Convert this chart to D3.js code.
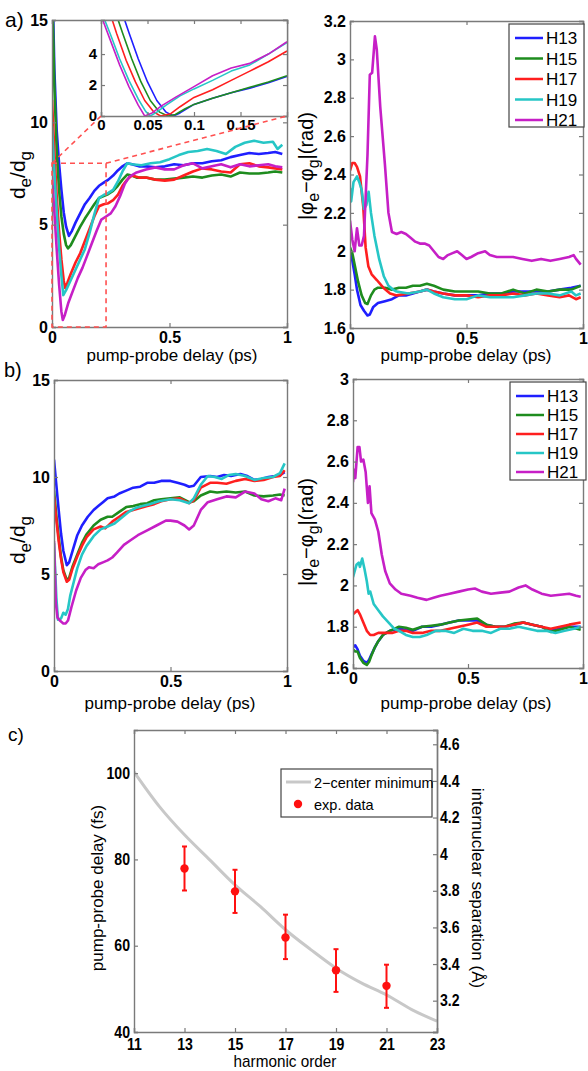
<!DOCTYPE html>
<html>
<head>
<meta charset="utf-8">
<script src="https://cdn.jsdelivr.net/npm/d3@7"></script>
<style>
body { margin: 0; background: #fff; }
text { font-family: "Liberation Sans", Arial, sans-serif; }
</style>
</head>
<body>
<svg id="fig" width="588" height="1071"></svg>
<script>
// series names and colours (matlab style)
const harmonics = ["H13", "H15", "H17", "H19", "H21"];
const lineColors = ["#1f1fff", "#1e8c1e", "#ff1f1f", "#26c6c6", "#c61fc6"];

// tick values
const delayTicks = [0, 0.5, 1];
const ampTicks = [0, 5, 10, 15];
const phaseTicksA = [1.6, 1.8, 2, 2.2, 2.4, 2.6, 2.8, 3, 3.2];
const phaseTicksB = [1.6, 1.8, 2, 2.2, 2.4, 2.6, 2.8, 3];
const insetXTicks = [0, 0.05, 0.1, 0.15];
const insetYTicks = [0, 2, 4];
const orderTicks = [11, 13, 15, 17, 19, 21, 23];
const fsTicks = [40, 60, 80, 100];
const sepTicks = [3.2, 3.4, 3.6, 3.8, 4, 4.2, 4.4, 4.6];

// a) d_e/d_g vs delay (ps)
const ampA13 = [[0,18],[0.01,12.6],[0.02,9.6],[0.03,8.0],[0.04,6.7],[0.05,5.6],[0.06,4.9],[0.072,4.45],[0.085,4.7],[0.1,5.1],[0.12,5.55],[0.14,6.0],[0.16,6.3],[0.18,6.65],[0.2,6.9],[0.22,7.05],[0.24,7.2],[0.26,7.4],[0.28,7.65],[0.3,7.85],[0.32,8.0],[0.34,7.95],[0.37,7.85],[0.4,7.85],[0.44,7.8],[0.48,7.85],[0.52,7.95],[0.56,7.9],[0.6,8.0],[0.64,8.0],[0.68,8.1],[0.72,8.15],[0.76,8.3],[0.8,8.4],[0.84,8.5],[0.88,8.45],[0.92,8.5],[0.95,8.55],[0.98,8.45]];
const ampA15 = [[0,17],[0.01,11.8],[0.02,8.6],[0.03,6.7],[0.04,5.4],[0.05,4.55],[0.06,4.0],[0.068,3.84],[0.08,4.0],[0.1,4.45],[0.12,4.9],[0.14,5.3],[0.16,5.65],[0.18,6.0],[0.2,6.3],[0.22,6.4],[0.24,6.5],[0.26,6.65],[0.28,6.9],[0.3,7.2],[0.32,7.45],[0.34,7.4],[0.36,7.3],[0.4,7.3],[0.44,7.2],[0.48,7.2],[0.52,7.25],[0.56,7.3],[0.6,7.35],[0.64,7.3],[0.68,7.4],[0.72,7.45],[0.76,7.35],[0.8,7.55],[0.84,7.5],[0.88,7.5],[0.92,7.55],[0.95,7.6],[0.98,7.55]];
const ampA17 = [[0,11.1],[0.01,8.6],[0.02,6.4],[0.03,4.7],[0.04,3.3],[0.05,2.25],[0.056,1.9],[0.065,2.15],[0.08,2.6],[0.1,3.15],[0.12,3.6],[0.14,4.2],[0.16,4.8],[0.18,5.4],[0.2,5.9],[0.22,6.0],[0.24,6.05],[0.26,6.2],[0.28,6.45],[0.3,6.9],[0.32,7.2],[0.34,7.4],[0.37,7.3],[0.4,7.3],[0.44,7.2],[0.48,7.15],[0.52,7.2],[0.56,7.4],[0.6,7.6],[0.64,7.75],[0.68,7.7],[0.72,7.6],[0.76,7.55],[0.8,7.95],[0.84,8.0],[0.88,7.85],[0.92,7.8],[0.95,7.75],[0.98,7.7]];
const ampA19 = [[0,9.8],[0.01,7.6],[0.02,5.6],[0.03,3.9],[0.04,2.5],[0.048,1.56],[0.06,1.8],[0.08,2.3],[0.1,2.8],[0.12,3.3],[0.14,3.8],[0.16,4.6],[0.18,5.5],[0.2,6.3],[0.22,6.45],[0.24,6.55],[0.26,6.7],[0.28,7.1],[0.3,7.6],[0.32,8.0],[0.34,7.95],[0.38,7.9],[0.42,8.0],[0.46,8.05],[0.5,8.2],[0.54,8.4],[0.58,8.55],[0.62,8.6],[0.66,8.7],[0.7,8.6],[0.74,8.45],[0.78,8.8],[0.82,9.0],[0.86,9.1],[0.9,9.0],[0.94,9.05],[0.96,8.7],[0.98,8.9]];
const ampA21 = [[0,7.4],[0.01,5.6],[0.02,3.8],[0.03,2.1],[0.04,0.75],[0.046,0.34],[0.055,0.6],[0.07,1.2],[0.09,1.8],[0.11,2.4],[0.13,2.9],[0.15,3.5],[0.17,4.1],[0.19,4.7],[0.21,5.25],[0.23,5.4],[0.25,5.55],[0.27,5.9],[0.29,6.4],[0.31,7.0],[0.33,7.35],[0.36,7.55],[0.4,7.7],[0.44,7.8],[0.48,7.7],[0.52,7.7],[0.56,7.9],[0.6,8.0],[0.64,7.75],[0.68,7.85],[0.72,7.95],[0.76,7.8],[0.8,7.95],[0.84,7.85],[0.88,7.9],[0.92,7.95],[0.95,7.85],[0.98,7.8]];

// a) inset, first 0.2 ps
const insetA13 = [[0.018,7.5],[0.03,5.4],[0.04,3.7],[0.05,2.2],[0.06,1.0],[0.07,0.25],[0.078,0.0],[0.085,0.2],[0.1,0.75],[0.12,1.15],[0.14,1.5],[0.16,1.8],[0.18,2.15],[0.2,2.55]];
const insetA15 = [[0.011,7.5],[0.023,5.4],[0.033,3.7],[0.043,2.2],[0.053,1.0],[0.063,0.25],[0.072,0.0],[0.08,0.1],[0.09,0.45],[0.1,0.75],[0.12,1.15],[0.14,1.5],[0.16,1.85],[0.18,2.2],[0.2,2.6]];
const insetA17 = [[0.005,7.5],[0.017,5.3],[0.027,3.6],[0.037,2.2],[0.047,1.0],[0.057,0.25],[0.064,0.0],[0.075,0.15],[0.085,0.6],[0.1,1.2],[0.12,1.7],[0.14,2.3],[0.16,2.9],[0.18,3.5],[0.2,4.2]];
const insetA19 = [[0,6.8],[0.01,5.3],[0.02,3.7],[0.03,2.3],[0.04,1.1],[0.048,0.3],[0.053,0.0],[0.06,0.25],[0.07,0.7],[0.085,1.3],[0.1,1.75],[0.12,2.3],[0.14,2.9],[0.16,3.3],[0.18,4.0],[0.2,4.75]];
const insetA21 = [[0,6.5],[0.01,4.9],[0.02,3.3],[0.03,1.9],[0.04,0.7],[0.047,0.0],[0.055,0.2],[0.065,0.65],[0.08,1.2],[0.1,1.9],[0.12,2.6],[0.14,3.1],[0.16,3.4],[0.18,4.0],[0.2,4.8]];
// dashed zoom box (delay ps, d_e/d_g)
const zoomBox = [0.23, 8];

// a) |phi_e - phi_g| (rad)
const phaseA13 = [[0,2.0],[0.01,1.95],[0.02,1.88],[0.03,1.8],[0.045,1.72],[0.06,1.69],[0.075,1.665],[0.085,1.67],[0.1,1.71],[0.12,1.73],[0.15,1.74],[0.18,1.75],[0.21,1.77],[0.24,1.77],[0.27,1.78],[0.3,1.79],[0.33,1.8],[0.36,1.79],[0.4,1.78],[0.45,1.77],[0.5,1.77],[0.55,1.77],[0.6,1.78],[0.65,1.78],[0.7,1.79],[0.75,1.79],[0.8,1.79],[0.85,1.79],[0.9,1.8],[0.95,1.81],[0.99,1.82]];
const phaseA15 = [[0,2.02],[0.01,1.99],[0.02,1.93],[0.035,1.84],[0.05,1.77],[0.065,1.73],[0.075,1.725],[0.09,1.77],[0.105,1.8],[0.12,1.81],[0.15,1.81],[0.18,1.8],[0.21,1.81],[0.24,1.81],[0.27,1.82],[0.3,1.82],[0.33,1.83],[0.36,1.82],[0.4,1.8],[0.45,1.79],[0.5,1.79],[0.55,1.79],[0.6,1.78],[0.65,1.78],[0.7,1.8],[0.75,1.78],[0.8,1.8],[0.85,1.79],[0.9,1.8],[0.95,1.8],[0.99,1.82]];
const phaseA17 = [[0,2.42],[0.01,2.46],[0.02,2.46],[0.03,2.44],[0.043,2.39],[0.057,2.23],[0.067,2.02],[0.079,1.92],[0.093,1.88],[0.115,1.85],[0.143,1.81],[0.172,1.78],[0.2,1.77],[0.25,1.78],[0.3,1.79],[0.33,1.8],[0.36,1.79],[0.4,1.78],[0.45,1.77],[0.5,1.77],[0.55,1.76],[0.6,1.77],[0.65,1.77],[0.7,1.78],[0.75,1.77],[0.8,1.78],[0.85,1.77],[0.9,1.76],[0.94,1.77],[0.97,1.75],[0.99,1.76]];
const phaseA19 = [[0,2.33],[0.005,2.26],[0.015,2.36],[0.03,2.39],[0.04,2.36],[0.05,2.32],[0.06,2.22],[0.07,2.24],[0.08,2.31],[0.09,2.2],[0.105,2.08],[0.125,1.96],[0.145,1.87],[0.165,1.82],[0.185,1.8],[0.2,1.79],[0.25,1.78],[0.3,1.79],[0.33,1.8],[0.36,1.78],[0.4,1.76],[0.45,1.75],[0.5,1.75],[0.55,1.77],[0.6,1.76],[0.65,1.76],[0.7,1.76],[0.75,1.77],[0.8,1.78],[0.85,1.78],[0.9,1.77],[0.95,1.79],[0.97,1.77],[0.99,1.78]];
const phaseA21 = [[0,2.16],[0.01,2.06],[0.02,2.0],[0.03,2.12],[0.04,2.03],[0.05,2.03],[0.06,2.08],[0.075,2.5],[0.085,2.92],[0.095,2.93],[0.107,3.12],[0.115,3.05],[0.13,2.75],[0.15,2.45],[0.165,2.2],[0.18,2.1],[0.2,2.09],[0.22,2.1],[0.24,2.09],[0.26,2.07],[0.28,2.05],[0.3,2.04],[0.32,2.04],[0.34,2.03],[0.36,2.0],[0.38,1.97],[0.4,1.96],[0.42,1.98],[0.44,1.99],[0.46,2.0],[0.48,1.98],[0.5,1.96],[0.52,1.97],[0.55,1.99],[0.58,2.0],[0.6,1.98],[0.63,1.97],[0.66,1.97],[0.7,1.97],[0.74,1.96],[0.78,1.95],[0.82,1.96],[0.86,1.95],[0.9,1.96],[0.94,1.97],[0.96,1.98],[0.97,1.96],[0.99,1.93]];

// b) d_e/d_g vs delay (ps)
const ampB13 = [[0,10.9],[0.01,9.6],[0.02,8.3],[0.03,7.1],[0.04,6.2],[0.055,5.45],[0.065,5.6],[0.08,6.2],[0.1,7.0],[0.12,7.5],[0.145,7.95],[0.17,8.3],[0.19,8.5],[0.21,8.7],[0.23,8.9],[0.26,9.0],[0.28,9.15],[0.31,9.3],[0.34,9.45],[0.37,9.5],[0.4,9.7],[0.43,9.7],[0.46,9.8],[0.5,9.8],[0.53,9.7],[0.56,9.6],[0.58,9.5],[0.6,9.55],[0.63,10.0],[0.67,10.05],[0.7,10.0],[0.73,10.1],[0.76,10.05],[0.8,10.15],[0.83,10.05],[0.86,9.85],[0.89,9.9],[0.92,10.0],[0.95,10.05],[0.97,10.1],[0.99,10.25]];
const ampB15 = [[0,9.3],[0.01,8.0],[0.02,6.9],[0.03,5.9],[0.04,5.2],[0.055,4.7],[0.065,4.8],[0.08,5.4],[0.1,6.0],[0.12,6.6],[0.14,7.05],[0.17,7.5],[0.2,7.8],[0.23,7.95],[0.25,7.95],[0.28,8.2],[0.31,8.45],[0.34,8.5],[0.37,8.6],[0.4,8.65],[0.43,8.8],[0.46,8.85],[0.5,8.9],[0.54,8.95],[0.58,8.7],[0.6,8.75],[0.63,9.05],[0.67,9.25],[0.7,9.2],[0.74,9.25],[0.78,9.2],[0.82,9.25],[0.86,9.05],[0.9,9.0],[0.94,9.05],[0.97,9.1],[0.99,9.05]];
const ampB17 = [[0,9.0],[0.01,7.8],[0.02,6.7],[0.03,5.8],[0.04,5.1],[0.055,4.6],[0.065,4.7],[0.08,5.3],[0.1,5.9],[0.12,6.45],[0.14,6.9],[0.17,7.3],[0.2,7.45],[0.22,7.35],[0.25,7.7],[0.28,7.95],[0.31,8.2],[0.34,8.3],[0.37,8.4],[0.4,8.5],[0.43,8.6],[0.46,8.75],[0.5,8.85],[0.54,8.9],[0.58,8.65],[0.6,8.8],[0.63,9.45],[0.67,9.7],[0.7,9.7],[0.74,9.65],[0.78,9.8],[0.82,9.9],[0.86,9.8],[0.9,9.85],[0.94,10.0],[0.97,10.05],[0.99,10.35]];
const ampB19 = [[0,6.6],[0.01,3.8],[0.017,2.65],[0.03,2.7],[0.04,3.0],[0.05,2.9],[0.06,3.2],[0.07,3.9],[0.085,4.6],[0.1,5.3],[0.12,6.0],[0.14,6.45],[0.17,6.95],[0.2,7.3],[0.23,7.45],[0.26,7.6],[0.29,7.9],[0.32,8.2],[0.35,8.4],[0.38,8.5],[0.41,8.6],[0.45,8.75],[0.5,8.85],[0.54,8.8],[0.58,8.65],[0.6,8.9],[0.63,9.6],[0.66,10.05],[0.69,10.0],[0.72,9.9],[0.75,10.1],[0.78,10.15],[0.82,10.05],[0.86,9.85],[0.9,9.95],[0.94,10.0],[0.97,10.2],[0.99,10.7]];
const ampB21 = [[0,6.7],[0.008,3.5],[0.015,2.75],[0.025,2.6],[0.04,2.45],[0.05,2.45],[0.06,2.6],[0.075,3.3],[0.095,4.15],[0.115,4.8],[0.135,5.2],[0.15,5.35],[0.17,5.3],[0.19,5.5],[0.21,5.6],[0.23,5.7],[0.25,5.85],[0.27,6.1],[0.3,6.5],[0.33,6.75],[0.36,7.0],[0.4,7.25],[0.44,7.5],[0.48,7.75],[0.5,7.75],[0.53,7.7],[0.56,7.5],[0.58,7.3],[0.6,7.5],[0.63,8.3],[0.66,8.7],[0.7,8.85],[0.74,9.0],[0.78,8.95],[0.82,9.25],[0.86,9.15],[0.89,8.85],[0.92,8.75],[0.95,8.9],[0.975,8.8],[0.99,9.4]];

// b) |phi_e - phi_g| (rad)
const phaseB13 = [[0,1.7],[0.01,1.71],[0.02,1.69],[0.03,1.66],[0.045,1.635],[0.06,1.625],[0.07,1.64],[0.08,1.665],[0.095,1.7],[0.11,1.73],[0.13,1.76],[0.16,1.78],[0.2,1.79],[0.23,1.785],[0.26,1.78],[0.3,1.8],[0.34,1.8],[0.38,1.81],[0.42,1.82],[0.46,1.83],[0.5,1.83],[0.54,1.83],[0.58,1.81],[0.62,1.8],[0.66,1.8],[0.7,1.81],[0.74,1.82],[0.78,1.81],[0.82,1.8],[0.86,1.78],[0.9,1.79],[0.94,1.8],[0.99,1.8]];
const phaseB15 = [[0,1.69],[0.01,1.68],[0.02,1.68],[0.03,1.65],[0.045,1.625],[0.06,1.615],[0.07,1.63],[0.08,1.66],[0.095,1.7],[0.11,1.73],[0.13,1.76],[0.16,1.78],[0.2,1.8],[0.23,1.795],[0.26,1.785],[0.3,1.8],[0.34,1.805],[0.38,1.81],[0.42,1.82],[0.46,1.83],[0.5,1.835],[0.54,1.84],[0.58,1.81],[0.62,1.8],[0.66,1.8],[0.7,1.815],[0.74,1.82],[0.78,1.81],[0.82,1.8],[0.86,1.775],[0.9,1.785],[0.94,1.8],[0.99,1.785]];
const phaseB17 = [[0,1.86],[0.01,1.87],[0.02,1.88],[0.03,1.86],[0.045,1.82],[0.06,1.78],[0.075,1.76],[0.09,1.76],[0.11,1.77],[0.14,1.77],[0.17,1.77],[0.2,1.78],[0.23,1.78],[0.26,1.77],[0.3,1.77],[0.34,1.78],[0.38,1.78],[0.42,1.79],[0.46,1.8],[0.5,1.81],[0.54,1.82],[0.58,1.8],[0.62,1.8],[0.66,1.8],[0.7,1.81],[0.74,1.82],[0.78,1.81],[0.82,1.8],[0.86,1.79],[0.9,1.8],[0.94,1.81],[0.99,1.82]];
const phaseB19 = [[0,2.04],[0.01,2.08],[0.015,2.1],[0.025,2.11],[0.03,2.09],[0.04,2.13],[0.05,2.08],[0.06,2.02],[0.068,1.96],[0.075,1.97],[0.09,1.91],[0.11,1.88],[0.13,1.85],[0.155,1.82],[0.18,1.79],[0.2,1.78],[0.23,1.76],[0.26,1.75],[0.29,1.75],[0.32,1.76],[0.36,1.78],[0.4,1.78],[0.44,1.77],[0.48,1.79],[0.52,1.78],[0.56,1.78],[0.6,1.77],[0.64,1.79],[0.68,1.79],[0.72,1.8],[0.76,1.79],[0.8,1.78],[0.84,1.78],[0.88,1.77],[0.92,1.78],[0.96,1.79],[0.99,1.8]];
const phaseB21 = [[0,2.5],[0.005,2.56],[0.01,2.52],[0.02,2.67],[0.028,2.67],[0.035,2.6],[0.045,2.61],[0.055,2.55],[0.065,2.4],[0.072,2.48],[0.08,2.35],[0.095,2.32],[0.11,2.26],[0.125,2.15],[0.14,2.07],[0.16,2.01],[0.185,1.98],[0.21,1.96],[0.25,1.95],[0.28,1.94],[0.32,1.93],[0.35,1.94],[0.38,1.95],[0.42,1.96],[0.46,1.97],[0.5,1.98],[0.53,1.985],[0.56,1.97],[0.6,1.96],[0.64,1.965],[0.68,1.97],[0.72,1.99],[0.75,2.0],[0.78,1.98],[0.82,1.96],[0.86,1.95],[0.9,1.955],[0.94,1.96],[0.97,1.95],[0.99,1.945]];

// c) two-centre minimum vs experiment
const theoryOrder = [11, 12, 13, 14, 15, 16, 17, 18, 19, 20, 21, 22, 23];
const theoryDelay = [100.3, 92.3, 85.7, 79.9, 74.1, 69.1, 63.7, 59.1, 54.8, 51.4, 48.6, 45.2, 42.5];
const expOrder = [13, 15, 17, 19, 21];
const expDelay = [77.9, 72.6, 61.9, 54.3, 50.7];
const expLow = [72.8, 67.6, 56.9, 49.3, 45.6];
const expHigh = [83.0, 77.6, 67.2, 59.2, 55.6];

const svg = d3.select("#fig");
const fmt = d3.format("~g");
const axisGray = "#7a7a7a";
let clipCount = 0;

function styleAxis(g, showText, size) {
	g.selectAll(".domain").attr("stroke", axisGray).attr("stroke-width", 1.4);
	g.selectAll(".tick line").attr("stroke", axisGray).attr("stroke-width", 1.2);
	g.selectAll("text")
		.attr("fill", "#000")
		.attr("font-family", "Liberation Sans, Arial, sans-serif")
		.attr("font-size", size || 16)
		.attr("font-weight", "bold");
	if (!showText) g.selectAll("text").remove();
}

// panel c text is a little narrower in the figure
function squeeze(sel, f) {
	sel.each(function() {
		const w = this.getComputedTextLength();
		d3.select(this).attr("textLength", w * f).attr("lengthAdjust", "spacingAndGlyphs");
	});
}

// boxed matlab-like axes with inward ticks
function makeAxes(box, xDom, yDom, xTicks, yTicks, opts) {
	opts = opts || {};
	const x = d3.scaleLinear().domain(xDom).range([box.l, box.r]);
	const y = d3.scaleLinear().domain(yDom).range([box.b, box.t]);
	const g = svg.append("g");
	g.append("rect").attr("x", box.l).attr("y", box.t)
		.attr("width", box.r - box.l).attr("height", box.b - box.t).attr("fill", "#fff");
	const id = "clip" + (clipCount++);
	svg.append("clipPath").attr("id", id).append("rect")
		.attr("x", box.l).attr("y", box.t).attr("width", box.r - box.l).attr("height", box.b - box.t);
	const plot = g.append("g").attr("clip-path", "url(#" + id + ")");
	const axes = g.append("g");
	axes.append("g").attr("transform", "translate(0," + box.b + ")")
		.call(d3.axisBottom(x).tickValues(xTicks).tickSize(-4).tickPadding(opts.xPad || 5).tickFormat(fmt))
		.call(a => styleAxis(a, true, opts.size));
	axes.append("g").attr("transform", "translate(0," + box.t + ")")
		.call(d3.axisTop(x).tickValues(xTicks).tickSize(-4))
		.call(a => styleAxis(a, false));
	axes.append("g").attr("transform", "translate(" + box.l + ",0)")
		.call(d3.axisLeft(y).tickValues(yTicks).tickSize(-4).tickPadding(opts.yPad || 4).tickFormat(fmt))
		.call(a => styleAxis(a, true, opts.size));
	axes.append("g").attr("transform", "translate(" + box.r + ",0)")
		.call(d3.axisRight(y).tickValues(opts.rightTicks ? [] : yTicks).tickSize(-4))
		.call(a => styleAxis(a, false));
	return { x: x, y: y, g: g, plot: plot, axes: axes };
}

function drawSeries(p, seriesList, width) {
	const line = d3.line().x(d => p.x(d[0])).y(d => p.y(d[1]));
	p.plot.selectAll("path.series").data(seriesList).enter().append("path")
		.attr("class", "series")
		.attr("d", line)
		.attr("fill", "none")
		.attr("stroke", (d, i) => lineColors[i])
		.attr("stroke-width", width)
		.attr("stroke-linejoin", "round");
}

function legend(box, rowY) {
	const g = svg.append("g");
	g.append("rect").attr("x", box.l).attr("y", box.t).attr("width", box.r - box.l).attr("height", box.b - box.t)
		.attr("fill", "#fff").attr("stroke", "#444").attr("stroke-width", 1.2);
	harmonics.forEach((h, i) => {
		const yy = rowY(i);
		g.append("line").attr("x1", box.l + 6).attr("x2", box.l + 34).attr("y1", yy).attr("y2", yy)
			.attr("stroke", lineColors[i]).attr("stroke-width", 2.5);
		g.append("text").attr("x", box.l + 37).attr("y", yy + 6).attr("font-size", 17).text(h);
	});
}

function xLabel(cx, y, txt) {
	return svg.append("text").attr("x", cx).attr("y", y).attr("text-anchor", "middle").attr("font-size", 17).text(txt);
}

function ampLabel(cx, cy) {
	const t = svg.append("text").attr("transform", "translate(" + cx + "," + cy + ") rotate(-90)")
		.attr("text-anchor", "middle").attr("font-size", 21);
	t.append("tspan").text("d");
	t.append("tspan").attr("dy", 6).attr("font-size", 17).text("e");
	t.append("tspan").attr("dy", -6).text("/d");
	t.append("tspan").attr("dy", 6).attr("font-size", 17).text("g");
}

function phaseLabel(cx, cy) {
	const t = svg.append("text").attr("transform", "translate(" + cx + "," + cy + ") rotate(-90)")
		.attr("text-anchor", "middle").attr("font-size", 20);
	t.append("tspan").text("|\u03c6");
	t.append("tspan").attr("dy", 6).attr("font-size", 16).text("e");
	t.append("tspan").attr("dy", -6).text("\u2212\u03c6");
	t.append("tspan").attr("dy", 6).attr("font-size", 16).text("g");
	t.append("tspan").attr("dy", -6).text("|(rad)");
}

function panelTag(x, y, txt, size) {
	svg.append("text").attr("x", x).attr("y", y).attr("font-size", size).text(txt);
}

// ---------- a) left ----------
const pA = makeAxes({ l: 52, r: 287, t: 20, b: 327 }, [0, 1], [0, 15], delayTicks, ampTicks);
drawSeries(pA, [ampA13, ampA15, ampA17, ampA19, ampA21], 2.6);

// dashed zoom box and connectors
const zx = pA.x(zoomBox[0]), zy = pA.y(zoomBox[1]);
const dash = svg.append("g").attr("fill", "none").attr("stroke", "#ff5050")
	.attr("stroke-width", 1.6).attr("stroke-dasharray", "5,4");
dash.append("path").attr("d", "M" + pA.x(0) + "," + zy + "L" + zx + "," + zy + "L" + zx + "," + pA.y(0) + "L" + pA.x(0) + "," + pA.y(0) + "Z");

const inset = makeAxes({ l: 101, r: 287, t: 20, b: 116 }, [0, 0.2], [0, 6.2], insetXTicks, insetYTicks, { xPad: 3, yPad: 4, size: 15 });
dash.append("line").attr("x1", pA.x(0)).attr("y1", zy).attr("x2", 101).attr("y2", 116);
dash.append("line").attr("x1", zx).attr("y1", zy).attr("x2", 287).attr("y2", 116);
drawSeries(inset, [insetA13, insetA15, insetA17, insetA19, insetA21], 1.6);
dash.raise();
inset.axes.raise();
pA.axes.raise();

ampLabel(25, 175);
xLabel(172, 361, "pump-probe delay (ps)");
panelTag(5, 27, "a)", 21);

// ---------- a) right ----------
const pAr = makeAxes({ l: 350, r: 583, t: 21, b: 328 }, [0, 1], [1.6, 3.2], delayTicks, phaseTicksA);
drawSeries(pAr, [phaseA13, phaseA15, phaseA17, phaseA19, phaseA21], 2.6);
legend({ l: 509, r: 584, t: 24, b: 127 }, i => 38 + i * 20.5);
phaseLabel(313, 166);
xLabel(466, 361, "pump-probe delay (ps)");

// ---------- b) left ----------
const pB = makeAxes({ l: 54, r: 287, t: 380, b: 671 }, [0, 1], [0, 15], delayTicks, ampTicks);
drawSeries(pB, [ampB13, ampB15, ampB17, ampB19, ampB21], 2.6);
ampLabel(25, 540);
xLabel(170, 709, "pump-probe delay (ps)");
panelTag(4, 377, "b)", 20);

// ---------- b) right ----------
const pBr = makeAxes({ l: 353, r: 583, t: 379, b: 668 }, [0, 1], [1.6, 3], delayTicks, phaseTicksB);
drawSeries(pBr, [phaseB13, phaseB15, phaseB17, phaseB19, phaseB21], 2.6);
legend({ l: 510, r: 586, t: 382, b: 480 }, i => 396 + i * 19);
phaseLabel(313, 532);
xLabel(466, 709, "pump-probe delay (ps)");

// ---------- c) ----------
const pC = makeAxes({ l: 134, r: 437, t: 730, b: 1032 }, [11, 23], [40, 110], orderTicks, fsTicks, { rightTicks: true, xPad: 7 });
const ySep = d3.scaleLinear().domain([3.029, 4.678]).range([1032, 730]);
pC.axes.append("g").attr("transform", "translate(437,0)")
	.call(d3.axisRight(ySep).tickValues(sepTicks).tickSize(-4).tickPadding(3).tickFormat(fmt))
	.call(a => styleAxis(a, true));
squeeze(pC.axes.selectAll("text"), 0.88);
const theory = theoryOrder.map((o, i) => [o, theoryDelay[i]]);
pC.plot.append("path")
	.attr("d", d3.line().x(d => pC.x(d[0])).y(d => pC.y(d[1])).curve(d3.curveMonotoneX)(theory))
	.attr("fill", "none").attr("stroke", "#c8c8c8").attr("stroke-width", 3);
const exp = pC.plot.append("g").attr("stroke", "#ff1010").attr("stroke-width", 2);
expOrder.forEach((o, i) => {
	const cx = pC.x(o);
	exp.append("line").attr("x1", cx).attr("x2", cx).attr("y1", pC.y(expLow[i])).attr("y2", pC.y(expHigh[i]));
	exp.append("line").attr("x1", cx - 2.5).attr("x2", cx + 2.5).attr("y1", pC.y(expLow[i])).attr("y2", pC.y(expLow[i]));
	exp.append("line").attr("x1", cx - 2.5).attr("x2", cx + 2.5).attr("y1", pC.y(expHigh[i])).attr("y2", pC.y(expHigh[i]));
	exp.append("circle").attr("cx", cx).attr("cy", pC.y(expDelay[i])).attr("r", 4.2).attr("fill", "#ff1010").attr("stroke", "none");
});
const lg = svg.append("g");
lg.append("rect").attr("x", 281).attr("y", 769).attr("width", 151).attr("height", 48)
	.attr("fill", "#fff").attr("stroke", "#444").attr("stroke-width", 1.2);
lg.append("line").attr("x1", 286).attr("x2", 311).attr("y1", 782).attr("y2", 782).attr("stroke", "#c8c8c8").attr("stroke-width", 3);
lg.append("text").attr("x", 314).attr("y", 788).attr("font-size", 14.5).text("2\u2212center minimum");
lg.append("circle").attr("cx", 298).attr("cy", 804).attr("r", 4.2).attr("fill", "#ff1010");
lg.append("text").attr("x", 314).attr("y", 810).attr("font-size", 14.5).text("exp. data");

svg.append("text").attr("transform", "translate(103,888) rotate(-90)").attr("text-anchor", "middle")
	.attr("font-size", 17).text("pump-probe delay (fs)");
svg.append("text").attr("transform", "translate(472,888) rotate(90)").attr("text-anchor", "middle")
	.attr("font-size", 17).text("internuclear separation (\u00c5)");
squeeze(xLabel(285, 1067, "harmonic order"), 0.9);
panelTag(8, 741, "c)", 19);
</script>
</body>
</html>
